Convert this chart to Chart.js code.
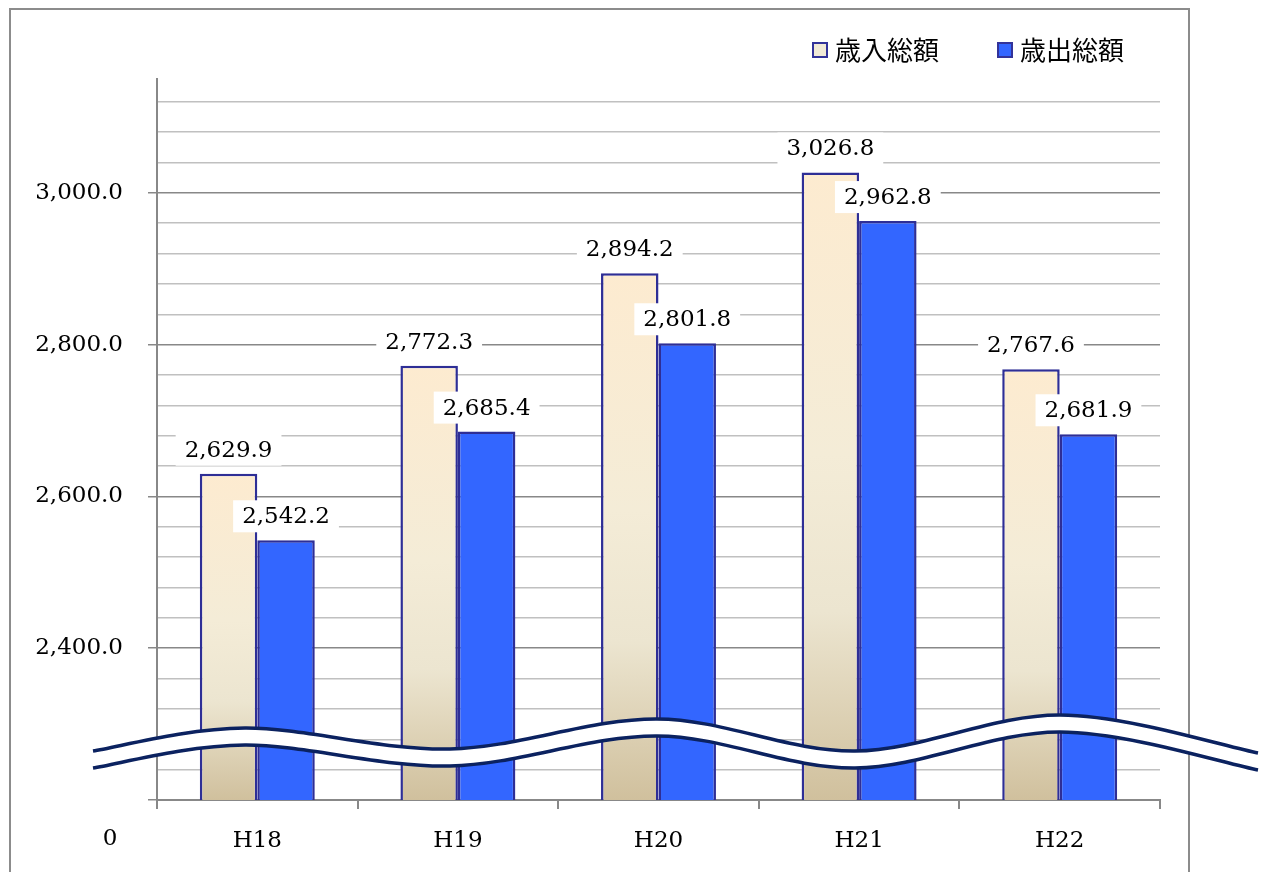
<!DOCTYPE html>
<html>
<head>
<meta charset="utf-8">
<script src="https://cdn.jsdelivr.net/npm/chart.js@4/dist/chart.umd.min.js"></script>
<style>
  html, body { margin: 0; padding: 0; background: #fff; }
  canvas { display: block; }
</style>
</head>
<body>
<canvas id="budgetChart" width="1266" height="872"></canvas>
<script>
// data
const years = ['H18', 'H19', 'H20', 'H21', 'H22'];
const revenue = [2629.9, 2772.3, 2894.2, 3026.8, 2767.6];      // 歳入総額
const expenditure = [2542.2, 2685.4, 2801.8, 2962.8, 2681.9];  // 歳出総額
const seriesNames = ['歳入総額', '歳出総額'];

const serif = '"DejaVu Serif", "Liberation Serif", serif';
const jp = '"Noto Sans CJK JP", sans-serif';
const fmt = v => v.toLocaleString('en-US', { minimumFractionDigits: 1, maximumFractionDigits: 1 });

// beige bar gradient, per bar from its top to the axis
function beigeFill(c) {
  const chart = c.chart;
  const area = chart.chartArea;
  if (!area || c.raw === undefined) return '#F0EBD7';
  const top = chart.scales.y.getPixelForValue(c.raw);
  const g = chart.ctx.createLinearGradient(0, top, 0, area.bottom);
  g.addColorStop(0, '#FDEBD0');
  g.addColorStop(0.45, '#F4ECD7');
  g.addColorStop(0.7, '#ECE5D0');
  g.addColorStop(1, '#D0C09D');
  return g;
}

// smooth curve through points (catmull-rom)
function curve(ctx, pts, move) {
  if (move) ctx.moveTo(pts[0][0], pts[0][1]);
  for (let i = 0; i < pts.length - 1; i++) {
    const p0 = pts[Math.max(i - 1, 0)], p1 = pts[i], p2 = pts[i + 1], p3 = pts[Math.min(i + 2, pts.length - 1)];
    ctx.bezierCurveTo(
      p1[0] + (p2[0] - p0[0]) / 6, p1[1] + (p2[1] - p0[1]) / 6,
      p2[0] - (p3[0] - p1[0]) / 6, p2[1] - (p3[1] - p1[1]) / 6,
      p2[0], p2[1]);
  }
}

const decor = {
  id: 'decor',
  beforeDraw(chart) {
    const ctx = chart.ctx;
    ctx.save();
    ctx.fillStyle = '#fff';
    ctx.fillRect(0, 0, chart.width, chart.height);
    ctx.strokeStyle = '#8c8c8c';
    ctx.lineWidth = 2;
    ctx.strokeRect(10, 9, 1179, 900);
    ctx.restore();
  },
  afterDatasetsDraw(chart) {
    const ctx = chart.ctx;
    ctx.save();
    // value labels
    ctx.font = '23px ' + serif;
    ctx.textAlign = 'center';
    ctx.textBaseline = 'middle';
    chart.data.datasets.forEach((ds, di) => {
      chart.getDatasetMeta(di).data.forEach((bar, i) => {
        const txt = fmt(ds.data[i]);
        const w = ctx.measureText(txt).width + 18;
        const cy = bar.y - 24;
        ctx.fillStyle = '#fff';
        ctx.fillRect(bar.x - w / 2, cy - 16, w, 32);
        ctx.fillStyle = '#000';
        ctx.fillText(txt, bar.x, cy + 1);
      });
    });

    // axis break wave
    const top = [[93, 751], [245, 728], [450, 749], [657, 719], [855, 751], [1060, 715], [1258, 753]];
    const bot = top.map(p => [p[0], p[1] + 17]);
    ctx.beginPath();
    curve(ctx, top, true);
    ctx.lineTo(bot[bot.length - 1][0], bot[bot.length - 1][1]);
    curve(ctx, bot.slice().reverse(), false);
    ctx.closePath();
    ctx.fillStyle = '#fff';
    ctx.fill();
    ctx.strokeStyle = '#0B2260';
    ctx.lineWidth = 3.5;
    ctx.beginPath();
    curve(ctx, top, true);
    ctx.stroke();
    ctx.beginPath();
    curve(ctx, bot, true);
    ctx.stroke();

    // "0" at the broken axis
    ctx.fillStyle = '#000';
    ctx.font = '23px ' + serif;
    ctx.fillText('0', 110, 839);

    // legend
    const items = [{ x: 813, fill: '#F1EAD6' }, { x: 998, fill: '#3366FF' }];
    ctx.font = '26px ' + jp;
    ctx.textAlign = 'left';
    items.forEach((it, i) => {
      ctx.fillStyle = it.fill;
      ctx.fillRect(it.x, 43, 14, 14);
      ctx.strokeStyle = '#333399';
      ctx.lineWidth = 2;
      ctx.strokeRect(it.x, 43, 14, 14);
      ctx.fillStyle = '#000';
      ctx.fillText(seriesNames[i], it.x + 22, 50);
    });
    ctx.restore();
  }
};

new Chart(document.getElementById('budgetChart'), {
  type: 'bar',
  data: {
    labels: years,
    datasets: [
      {
        label: seriesNames[0],
        data: revenue,
        backgroundColor: beigeFill,
        borderColor: '#2E2E96',
        borderWidth: 2.5,
        categoryPercentage: 0.573,
        barPercentage: 1
      },
      {
        label: seriesNames[1],
        data: expenditure,
        backgroundColor: '#3366FF',
        borderColor: '#2E2E96',
        borderWidth: 2.5,
        categoryPercentage: 0.573,
        barPercentage: 1
      }
    ]
  },
  options: {
    responsive: false,
    animation: false,
    layout: { padding: { top: 79, right: 106, left: 0, bottom: 0 } },
    plugins: { legend: { display: false }, tooltip: { enabled: false } },
    scales: {
      x: {
        afterFit: s => { s.height = 72; },
        grid: { drawOnChartArea: false, tickLength: 9, color: '#888', lineWidth: 2 },
        border: { color: '#888', width: 2 },
        ticks: { color: '#000', font: { family: serif, size: 23 }, padding: 18 }
      },
      y: {
        min: 2200,
        max: 3150,
        afterFit: s => { s.width = 157; },
        afterBuildTicks: s => {
          const t = [];
          for (let v = 2200; v <= 3120; v += 40) t.push({ value: v });
          s.ticks = t;
        },
        border: { color: '#888', width: 2 },
        grid: {
          tickLength: 9,
          lineWidth: 1.5,
          color: c => c.tick.value % 200 === 0 ? '#888' : '#c0c0c0',
          tickColor: c => c.tick.value % 200 === 0 ? '#888' : 'rgba(0,0,0,0)'
        },
        ticks: {
          autoSkip: false,
          padding: 25,
          color: '#000',
          font: { family: serif, size: 23 },
          callback: v => (v % 200 === 0 && v > 2200) ? fmt(v) : ''
        }
      }
    }
  },
  plugins: [decor]
});
</script>
</body>
</html>
